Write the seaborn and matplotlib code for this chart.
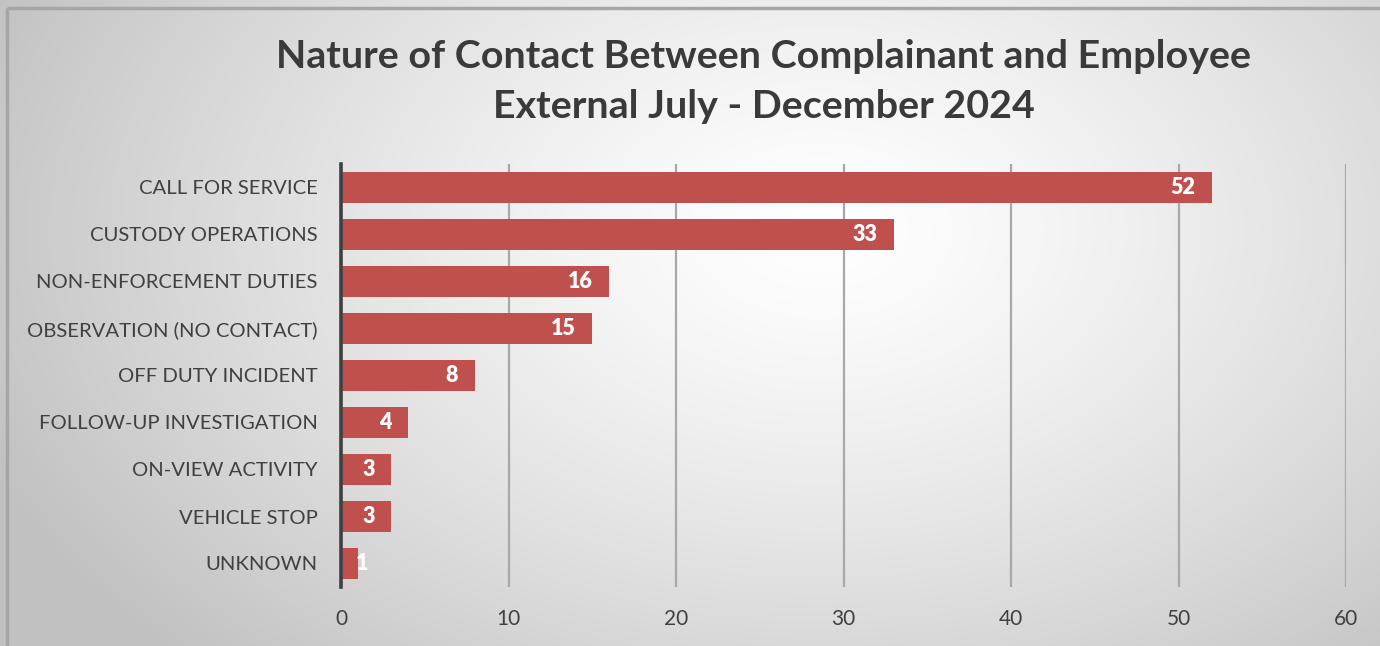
import numpy as np
import matplotlib
matplotlib.use("Agg")
import matplotlib.pyplot as plt
import seaborn as sns
import pandas as pd

categories = ["CALL FOR SERVICE", "CUSTODY OPERATIONS", "NON-ENFORCEMENT DUTIES",
              "OBSERVATION (NO CONTACT)", "OFF DUTY INCIDENT", "FOLLOW-UP INVESTIGATION",
              "ON-VIEW ACTIVITY", "VEHICLE STOP", "UNKNOWN"]
values = [52, 33, 16, 15, 8, 4, 3, 3, 1]
x_ticks = [0, 10, 20, 30, 40, 50, 60]
title_lines = ["Nature of Contact Between Complainant and Employee",
               "External July - December 2024"]

sns.set_theme(style="white")
plt.rcParams['font.family'] = ['Lato', 'DejaVu Sans']

W, H = 1380, 646
fig = plt.figure(figsize=(W / 100, H / 100), dpi=100)

# background radial gradient
bg = fig.add_axes([0, 0, 1, 1], zorder=-10)
yy, xx = np.mgrid[0:H, 0:W]
cx, cy = 820, 230
r = np.sqrt(((xx - cx) / 900.0) ** 2 + ((yy - cy) / 600.0) ** 2)
shade = 1.0 - 0.24 * np.clip(r, 0, 1) ** 1.3
img = np.dstack([shade, shade, shade])
bg.imshow(img, extent=[0, W, H, 0], aspect='auto', interpolation='bilinear')
bg.plot([7, 7], [7.5, H], color='#a6a6a6', lw=2.5, solid_capstyle='butt')
bg.plot([7, W], [7.5, 7.5], color='#a6a6a6', lw=2.5, solid_capstyle='butt')
bg.set_xlim(0, W)
bg.set_ylim(H, 0)
bg.axis('off')

ax = fig.add_axes([341 / W, 1 - 587 / H, (1346 - 341) / W, (587 - 164) / H])
ax.set_facecolor('none')

df = pd.DataFrame({"category": categories, "value": values})
sns.barplot(data=df, x="value", y="category", color="#C0504D", saturation=1,
            width=0.64, orient='h', ax=ax, zorder=3, linewidth=0, edgecolor='none')

ax.set_xlim(0, 60)
ax.set_xticks(x_ticks)
ax.set_xlabel("")
ax.set_ylabel("")
ax.grid(axis='x', color='#a8a8a8', lw=1.6, zorder=0)
ax.grid(axis='y', visible=False)
for s in ['top', 'right', 'bottom']:
    ax.spines[s].set_visible(False)
ax.spines['left'].set_color('#404040')
ax.spines['left'].set_linewidth(2.6)
ax.spines['left'].set_zorder(5)
ax.tick_params(axis='x', length=0, pad=16, labelsize=15, labelcolor='#404040')
ax.tick_params(axis='y', length=0, pad=17, labelsize=14.6, labelcolor='#404040')

for i, v in enumerate(values):
    if v >= 2:
        ax.annotate(str(v), xy=(v, i), xytext=(-12, 0), textcoords='offset points',
                    ha='right', va='center', color='white', fontsize=15.5,
                    fontweight='heavy', zorder=6)
    else:
        ax.annotate(str(v), xy=(0, i), xytext=(11, 0), textcoords='offset points',
                    ha='left', va='center', color='white', fontsize=15.5,
                    fontweight='heavy', zorder=6)

fig.text(764 / W, 1 - 56 / H, title_lines[0], ha='center', va='center',
         fontsize=28.4, fontweight='bold', color='#3a3a3a')
fig.text(764 / W, 1 - 107 / H, title_lines[1], ha='center', va='center',
         fontsize=28.4, fontweight='bold', color='#3a3a3a')

fig.savefig("out.png", dpi=100)
